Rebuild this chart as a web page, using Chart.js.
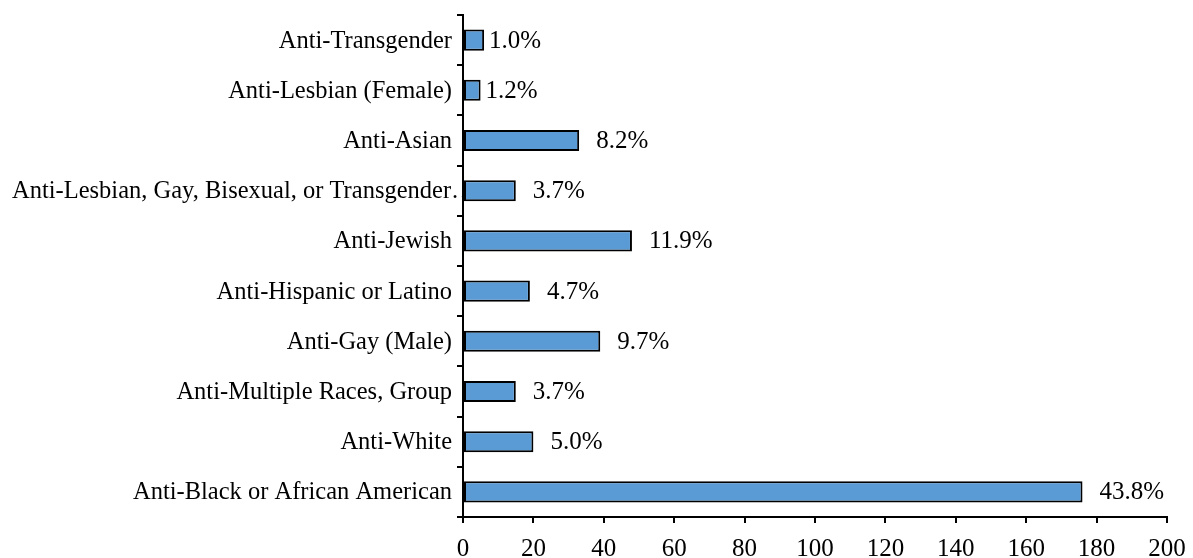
<!DOCTYPE html>
<html>
<head>
<meta charset="utf-8">
<script src="https://cdn.jsdelivr.net/npm/chart.js@4/dist/chart.umd.min.js"></script>
<style>
  html, body { margin: 0; padding: 0; background: #fff; }
  #wrap { width: 1193px; height: 558px; }
</style>
</head>
<body>
<div id="wrap"><canvas id="myChart" width="1193" height="558"></canvas></div>
<script>
// categories listed top to bottom as they appear in the chart
var categories = ["Anti-Transgender", "Anti-Lesbian (Female)", "Anti-Asian",
  "Anti-Lesbian, Gay, Bisexual, or Transgender\u2026", "Anti-Jewish",
  "Anti-Hispanic or Latino", "Anti-Gay (Male)", "Anti-Multiple Races, Group",
  "Anti-White", "Anti-Black or African American"];
var counts = [6, 5, 33, 15, 48, 19, 39, 15, 20, 176];
var percentLabels = ["1.0%", "1.2%", "8.2%", "3.7%", "11.9%", "4.7%", "9.7%", "3.7%", "5.0%", "43.8%"];
var xTicks = [0, 20, 40, 60, 80, 100, 120, 140, 160, 180, 200];

var serif = "'Liberation Serif', 'Times New Roman', serif";

// category names: drawn before the bars so a label that is too long
// runs under the first bar, as in the original
var categoryLabels = {
  id: 'categoryLabels',
  beforeDatasetsDraw: function(chart) {
    var ctx = chart.ctx;
    var y = chart.scales.y;
    ctx.save();
    ctx.font = "24.5px " + serif;
    ctx.fillStyle = "#000";
    ctx.textBaseline = "middle";
    categories.forEach(function(name, i) {
      var py = y.getPixelForTick(i) + 1;
      var w = ctx.measureText(name).width;
      if (w > y.right - 20) {
        ctx.textAlign = "left";
        ctx.fillText(name, 12, py);
      } else {
        ctx.textAlign = "right";
        ctx.fillText(name, y.right - 11, py);
      }
    });
    ctx.restore();
  }
};

// draws the percentage next to the end of each bar
var barLabels = {
  id: 'barLabels',
  afterDatasetsDraw: function(chart) {
    var ctx = chart.ctx;
    var meta = chart.getDatasetMeta(0);
    ctx.save();
    ctx.font = "25px " + serif;
    ctx.fillStyle = "#000";
    ctx.textAlign = "left";
    ctx.textBaseline = "middle";
    meta.data.forEach(function(bar, i) {
      var gap = counts[i] < 10 ? 5 : 17;
      ctx.fillText(percentLabels[i], bar.x + gap, bar.y + 1);
    });
    ctx.restore();
  }
};

var ctx = document.getElementById("myChart");
var myChart = new Chart(ctx, {
  type: 'bar',
  data: {
    labels: categories,
    datasets: [{
      data: counts,
      backgroundColor: "#5b9bd5",
      borderColor: "#000",
      borderWidth: 2,
      borderSkipped: false,
      barPercentage: 0.42,
      categoryPercentage: 1.0
    }]
  },
  options: {
    indexAxis: 'y',
    responsive: false,
    animation: false,
    layout: { padding: { top: 15, right: 26, left: 0, bottom: 0 } },
    plugins: {
      legend: { display: false },
      tooltip: { enabled: false }
    },
    scales: {
      x: {
        min: 0,
        max: 200,
        afterFit: function(axis) {
          axis.height = 41;
          axis.paddingLeft = 0;
          axis.paddingRight = 0;
        },
        afterBuildTicks: function(axis) {
          axis.ticks = xTicks.map(function(v) { return { value: v }; });
        },
        grid: {
          drawOnChartArea: false,
          drawTicks: true,
          tickLength: 6,
          tickColor: "#000",
          lineWidth: 2
        },
        border: { display: true, color: "#000", width: 2 },
        ticks: {
          color: "#000",
          padding: 11,
          maxRotation: 0,
          font: { family: serif, size: 25 }
        }
      },
      y: {
        afterFit: function(axis) { axis.width = 463; },
        grid: {
          offset: true,
          drawOnChartArea: false,
          drawTicks: true,
          tickLength: 6,
          tickColor: "#000",
          lineWidth: 2
        },
        border: { display: true, color: "#000", width: 2 },
        ticks: { display: false, autoSkip: false }
      }
    }
  },
  plugins: [categoryLabels, barLabels]
});
</script>
</body>
</html>
